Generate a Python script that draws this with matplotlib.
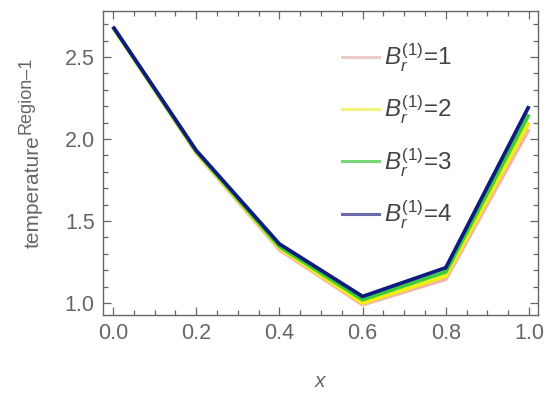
import numpy as np
import matplotlib
matplotlib.use("Agg")
import matplotlib.pyplot as plt
from matplotlib.lines import Line2D
from matplotlib.ticker import MultipleLocator, FormatStrFormatter

plt.rcParams['font.family'] = ['Liberation Sans', 'DejaVu Sans']
plt.rcParams['mathtext.fontset'] = 'custom'
plt.rcParams['mathtext.rm'] = 'Liberation Sans'
plt.rcParams['mathtext.it'] = 'Liberation Sans:italic'

x = [0.0, 0.2, 0.4, 0.6, 0.8, 1.0]
temp_br1 = [2.68, 1.915, 1.325, 0.99, 1.145, 2.06]
temp_br2 = [2.68, 1.92, 1.335, 1.00, 1.165, 2.10]
temp_br3 = [2.682, 1.925, 1.345, 1.02, 1.19, 2.15]
temp_br4 = [2.685, 1.93, 1.36, 1.04, 1.215, 2.20]
br_values = [1, 2, 3, 4]

series = [temp_br1, temp_br2, temp_br3, temp_br4]
colors = ['#F2B6A6', '#F2EE10', '#3CCB3C', '#0E1C80']
legend_colors = ['#EBCBC6', '#F4F27A', '#78D878', '#6A6AA8']
gray = '#666666'

fig = plt.figure(figsize=(5.48, 4.00), dpi=100)
ax = fig.add_axes([0.188, 0.2125, 0.794, 0.76])

for ys, c in zip(series, colors):
    ax.plot(x, ys, color=c, lw=2.7, solid_joinstyle='round', solid_capstyle='butt')

ax.set_xlim(-0.024, 1.022)
ax.set_ylim(0.927, 2.78)

ax.xaxis.set_major_locator(MultipleLocator(0.2))
ax.xaxis.set_minor_locator(MultipleLocator(0.05))
ax.yaxis.set_major_locator(MultipleLocator(0.5))
ax.yaxis.set_minor_locator(MultipleLocator(0.1))
ax.xaxis.set_major_formatter(FormatStrFormatter('%.1f'))
ax.yaxis.set_major_formatter(FormatStrFormatter('%.1f'))

ax.tick_params(which='both', direction='in', top=True, right=True,
               color=gray, width=0.9, labelcolor=gray, labelsize=15.5)
ax.tick_params(which='major', length=6, pad=6)
ax.tick_params(which='minor', length=3.5)
for s in ax.spines.values():
    s.set_color(gray)
    s.set_linewidth(1.0)

ax.set_xlabel('$x$', color=gray, fontsize=15, labelpad=20)

# y label: base word plus raised superscript, both rotated
base = fig.text(0.0712, 0.38, 'temperature', rotation=90, rotation_mode='anchor',
                ha='left', va='baseline', color=gray, fontsize=15)
fig.canvas.draw()
bb = base.get_window_extent()
fig_h = fig.bbox.height
fig.text(0.055, (bb.y1 + 1) / fig_h, 'Region–1', rotation=90, rotation_mode='anchor',
         ha='left', va='baseline', color=gray, fontsize=13)

handles = [Line2D([], [], color=c, lw=2.2) for c in legend_colors]
labels = [r'$B_r^{(1)}$=%d' % b for b in br_values]
ax.legend(handles, labels, loc='upper left', bbox_to_anchor=(0.5, 0.972),
          frameon=False, fontsize=17.5, handlelength=1.5, handletextpad=0.2,
          labelspacing=0.82, labelcolor='#444444')

fig.savefig('out.png', dpi=100)
